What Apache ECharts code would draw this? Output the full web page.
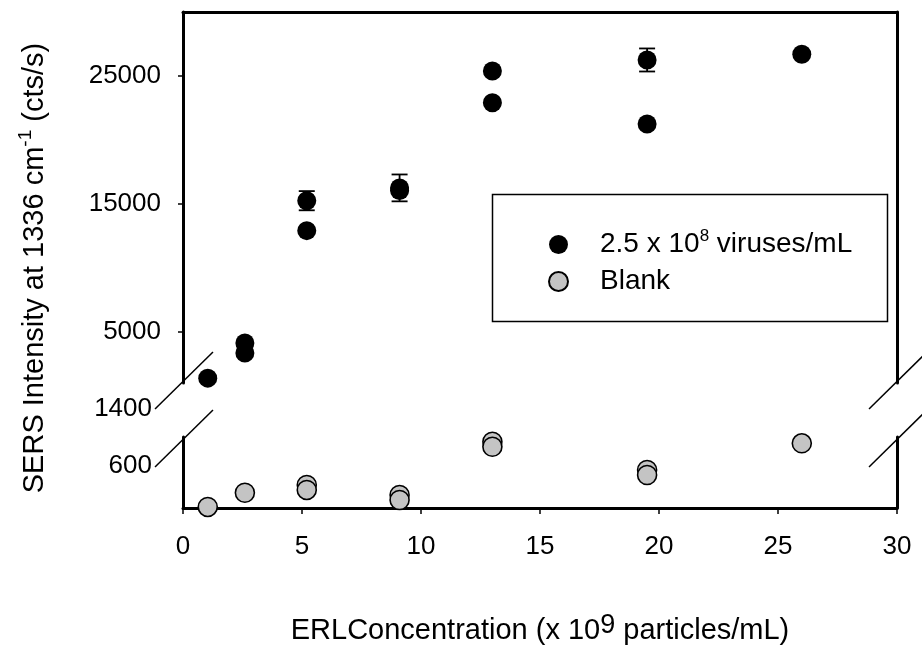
<!DOCTYPE html>
<html>
<head>
<meta charset="utf-8">
<script src="https://cdn.jsdelivr.net/npm/echarts@6/dist/echarts.min.js"></script>
<style>
  html, body { margin: 0; padding: 0; background: #ffffff; }
  #chart { width: 922px; height: 647px; }
</style>
</head>
<body>
<div id="chart"></div>
<script>
// ERL concentration (x 10^9 particles/mL)
const concentration = [1.04, 2.6, 5.2, 9.1, 13, 19.5, 26];

// SERS intensity at 1336 cm-1 with 2.5 x 10^8 viruses/mL (two replicate runs)
const virusRunA = [1380, 4120, 15250, 16250, 25390, 26250, 26700];
const virusRunB = [null, 3340, 12910, 16050, 22910, 21250, null];
const virusErrA = [0, 0, 750, 1050, 0, 900, 0];

// Blank (no virus), two replicate runs
const blankRunA = [15, 215, 324, 183, 934, 535, 911];
const blankRunB = [null, null, 254, 113, 863, 465, null];

// Tick labels of the broken y axis
const upperTicks = [5000, 15000, 25000];
const lowerTicks = [600, 1400];

const FONT = "'Liberation Sans', Arial, sans-serif";

// Layout of the two axis segments
const LEFT = 183, RIGHT = 25;
const UPPER_TOP = 12, UPPER_H = 371;          // 1000 .. 30000
const LOWER_TOP = 437, LOWER_H = 71;          // 0 .. 1000
const LOWER_MAX = 1000, LABEL_MAX = 1400;
const LOWER_BOTTOM = LOWER_TOP + LOWER_H;
const LABEL_H = LOWER_H * LABEL_MAX / LOWER_MAX;

function pairs(xs, ys) {
  const out = [];
  xs.forEach((x, i) => { if (ys[i] != null) out.push([x, ys[i]]); });
  return out;
}

const virusData = pairs(concentration, virusRunA).concat(pairs(concentration, virusRunB));
const blankData = pairs(concentration, blankRunA).concat(pairs(concentration, blankRunB));
const errData = [];
concentration.forEach((x, i) => { if (virusErrA[i] > 0) errData.push([x, virusRunA[i], virusErrA[i]]); });

const VIRUS_NAME = '2.5 x 10^8 viruses/mL';
const BLANK_NAME = 'Blank';

const frameLine = { show: true, onZero: false, lineStyle: { color: '#000', width: 3 } };
const noLabel = { show: false };
const noTick = { show: false };
const noSplit = { show: false };
const plainNumber = v => String(v);

const chart = echarts.init(document.getElementById('chart'), null, { renderer: 'canvas' });

// Axis-break marks: short parallel diagonals across each end of the gap
const breakMarks = [];
[LEFT, 922 - RIGHT].forEach(x => {
  [UPPER_TOP + UPPER_H - 2, LOWER_TOP + 2].forEach(y => {
    breakMarks.push({
      type: 'line',
      shape: { x1: x - 28, y1: y + 28, x2: x + 30, y2: y - 29 },
      style: { stroke: '#000', lineWidth: 1.5 },
      z: 10
    });
  });
});

chart.setOption({
  animation: false,
  backgroundColor: '#ffffff',
  textStyle: { fontFamily: FONT },
  grid: [
    { left: LEFT, right: RIGHT, top: UPPER_TOP, height: UPPER_H },
    { left: LEFT, right: RIGHT, top: LOWER_TOP, height: LOWER_H },
    { left: LEFT, right: RIGHT, top: LOWER_BOTTOM - LABEL_H, height: LABEL_H }
  ],
  xAxis: [
    { gridIndex: 0, type: 'value', min: 0, max: 30, position: 'top',
      axisLine: frameLine, axisTick: noTick, axisLabel: noLabel, splitLine: noSplit },
    { gridIndex: 1, type: 'value', min: 0, max: 30, interval: 5, position: 'bottom',
      axisLine: frameLine,
      axisTick: { show: true, inside: false, length: 6, lineStyle: { color: '#000', width: 1.5 } },
      axisLabel: { fontSize: 26, color: '#000', margin: 26, fontFamily: FONT, formatter: plainNumber },
      splitLine: noSplit,
      name: 'ERLConcentration (x 10{sup|9} particles/mL)',
      nameLocation: 'middle', nameGap: 104,
      nameTextStyle: {
        fontSize: 29, color: '#000', fontFamily: FONT,
        rich: { sup: { fontSize: 27, color: '#000', fontFamily: FONT, verticalAlign: 'top', padding: [0, 0, 11, 0] } }
      }
    },
    { gridIndex: 2, type: 'value', min: 0, max: 30, show: false }
  ],
  yAxis: [
    { gridIndex: 0, type: 'value', min: 1000, max: 30000, position: 'left',
      axisLine: frameLine,
      axisTick: { show: true, inside: false, length: 5, customValues: upperTicks, lineStyle: { color: '#000', width: 1.5 } },
      axisLabel: { fontSize: 26, color: '#000', margin: 22, fontFamily: FONT, customValues: upperTicks, formatter: plainNumber },
      splitLine: noSplit },
    { gridIndex: 1, type: 'value', min: 0, max: LOWER_MAX, position: 'left',
      axisLine: frameLine, axisTick: noTick, axisLabel: noLabel, splitLine: noSplit },
    { gridIndex: 2, type: 'value', min: 0, max: LABEL_MAX, position: 'left',
      axisLine: { show: false }, axisTick: noTick,
      axisLabel: { fontSize: 26, color: '#000', margin: 31, fontFamily: FONT, customValues: lowerTicks, formatter: plainNumber },
      splitLine: noSplit },
    { gridIndex: 0, type: 'value', min: 1000, max: 30000, position: 'right',
      axisLine: frameLine, axisTick: noTick, axisLabel: noLabel, splitLine: noSplit },
    { gridIndex: 1, type: 'value', min: 0, max: LOWER_MAX, position: 'right',
      axisLine: frameLine, axisTick: noTick, axisLabel: noLabel, splitLine: noSplit }
  ],
  legend: {
    orient: 'vertical',
    left: 543, top: 223,
    itemWidth: 19, itemHeight: 19, itemGap: 4,
    icon: 'circle',
    data: [VIRUS_NAME, BLANK_NAME],
    formatter: name => name === VIRUS_NAME ? '2.5 x 10{sup|8} viruses/mL' : name,
    textStyle: {
      fontSize: 28, color: '#000', fontFamily: FONT, lineHeight: 33,
      padding: [0, 0, 0, 27],
      rich: { sup: { fontSize: 17, color: '#000', fontFamily: FONT, verticalAlign: 'top', padding: [0, 0, 16, 0] } }
    }
  },
  graphic: [
    { type: 'rect', shape: { x: 492.5, y: 194.5, width: 395, height: 127 },
      style: { fill: 'none', stroke: '#000', lineWidth: 1.5 }, z: 5 },
    { type: 'text', x: 35, y: 268, rotation: Math.PI / 2,
      style: {
        text: 'SERS Intensity at 1336 cm{sup|-1} (cts/s)',
        fontSize: 29, fontFamily: FONT, fill: '#000',
        align: 'center', verticalAlign: 'middle',
        rich: { sup: { fontSize: 19, fontFamily: FONT, fill: '#000', verticalAlign: 'top', padding: [0, 0, 18, 0] } }
      }, z: 10 }
  ].concat(breakMarks),
  series: [
    { name: VIRUS_NAME, type: 'scatter', xAxisIndex: 0, yAxisIndex: 0,
      symbol: 'circle', symbolSize: 19, data: virusData,
      itemStyle: { color: '#000', opacity: 1 }, z: 4 },
    { name: 'virus-error', type: 'custom', xAxisIndex: 0, yAxisIndex: 0,
      data: errData, encode: { x: 0, y: 1 }, z: 5,
      renderItem: (params, api) => {
        const x = api.value(0), y = api.value(1), e = api.value(2);
        const hi = api.coord([x, y + e]);
        const lo = api.coord([x, y - e]);
        const w = 8;
        const st = { stroke: '#000', lineWidth: 1.8 };
        return { type: 'group', children: [
          { type: 'line', shape: { x1: hi[0], y1: hi[1], x2: lo[0], y2: lo[1] }, style: st },
          { type: 'line', shape: { x1: hi[0] - w, y1: hi[1], x2: hi[0] + w, y2: hi[1] }, style: st },
          { type: 'line', shape: { x1: lo[0] - w, y1: lo[1], x2: lo[0] + w, y2: lo[1] }, style: st }
        ] };
      }
    },
    { name: BLANK_NAME, type: 'scatter', xAxisIndex: 1, yAxisIndex: 1,
      symbol: 'circle', symbolSize: 19, data: blankData, clip: false,
      itemStyle: { color: '#c4c4c4', borderColor: '#000', borderWidth: 1.6, opacity: 1 }, z: 4 }
  ]
});
</script>
</body>
</html>
